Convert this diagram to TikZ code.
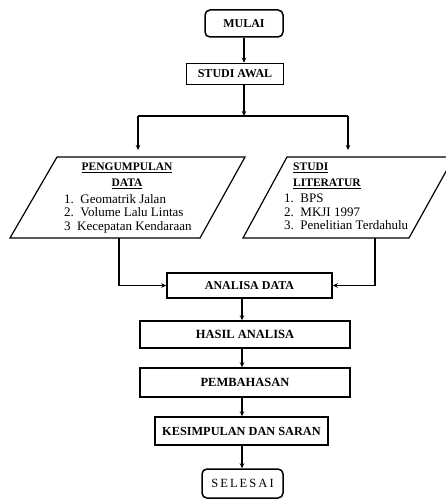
\documentclass[tikz,border=0pt]{standalone}
\usepackage{fontspec}
\setmainfont{Liberation Serif}
\usetikzlibrary{arrows.meta}
\tikzset{
  kotak/.style={draw, line width=1.5pt, inner sep=1pt, font=\bfseries\fontsize{12}{13}\selectfont},
  ujung/.style={kotak, rounded corners=5pt},
  panah/.style={line width=1.4pt, -{Stealth[length=5pt,width=4.5pt]}},
  garis/.style={line width=1.4pt},
  judul/.style={inner sep=0pt, font=\bfseries\fontsize{11.5}{16}\selectfont},
  daftar/.style={align=left, anchor=north west, inner sep=0pt, font=\fontsize{13}{13.5}\selectfont}
}

\begin{document}
\begin{tikzpicture}[x=1pt, y=-1pt]
	%%%%% START %%%%%
	\useasboundingbox (0,0) rectangle (446,500);
	
	\node[ujung, minimum width=78pt, minimum height=27pt] (mulai) at (244,23.5) {MULAI};
	\node[kotak, minimum width=97pt, minimum height=21pt] (awal) at (235,74) {STUDI AWAL};
	
	\coordinate (cabang) at (244,116);
	\coordinate (kiri) at (138,116);
	\coordinate (kanan) at (348,116);
	
	% data input, left
	\coordinate (pk1) at (57,157);
	\coordinate (pk2) at (245,157);
	\coordinate (pk3) at (200,238);
	\coordinate (pk4) at (10,238);
	\draw[line width=1.2pt] (pk1) -- (pk2) -- (pk3) -- (pk4) -- cycle;
	\node[judul, align=center, anchor=north] (pengumpulan) at (127,163) {\underline{PENGUMPULAN}\\\underline{DATA}};
	\node[daftar] (isi-kiri) at (64,194) {1.\enspace Geomatrik Jalan\\2.\enspace Volume Lalu Lintas\\3\enspace Kecepatan Kendaraan};
	
	% data input, right
	\coordinate (sl1) at (287,157);
	\coordinate (sl2) at (454,157);
	\coordinate (sl3) at (409,238);
	\coordinate (sl4) at (243,238);
	\draw[line width=1.2pt] (sl1) -- (sl2) -- (sl3) -- (sl4) -- cycle;
	\node[judul, align=left, anchor=north west] (literatur) at (293,163) {\underline{STUDI}\\\underline{LITERATUR}};
	\node[daftar] (isi-kanan) at (284,194) {1.\enspace BPS\\2.\enspace MKJI 1997\\3.\enspace Penelitian Terdahulu};
	
	\node[kotak, minimum width=165pt, minimum height=25pt] (analisa) at (249.5,285.5) {ANALISA DATA};
	\node[kotak, font=\bfseries\fontsize{12.5}{13}\selectfont, minimum width=210pt, minimum height=27pt] (hasil) at (245,334.5) {HASIL ANALISA};
	\node[kotak, font=\bfseries\fontsize{12.5}{13}\selectfont, minimum width=210pt, minimum height=29pt] (bahas) at (245,382.5) {PEMBAHASAN};
	\node[kotak, font=\bfseries\fontsize{12.3}{13}\selectfont, minimum width=173pt, minimum height=28pt] (simpul) at (241.5,431) {KESIMPULAN DAN SARAN};
	\node[ujung, font=\fontsize{12.5}{13}\selectfont, minimum width=81pt, minimum height=29pt] (selesai) at (242.5,483.5) {S\,E\,L\,E\,S\,A\,I};
	
	\coordinate (poros) at (242,0);
	\coordinate (kiri-bawah) at (119,238);
	\coordinate (kanan-bawah) at (375,238);
	
	% connectors
	\draw[panah] (mulai.south) -- (mulai.south |- awal.north);
	\draw[panah] (cabang |- awal.south) -- (cabang);
	\draw[garis] (kiri) -- (kanan);
	\draw[panah, shorten >=7pt] (kiri) -- (kiri |- pk1);
	\draw[panah, shorten >=7pt] (kanan) -- (kanan |- sl1);
	\draw[panah] (kiri-bawah) |- (analisa.west);
	\draw[panah] (kanan-bawah) |- (analisa.east);
	\draw[panah] (analisa.south -| poros) -- (hasil.north -| poros);
	\draw[panah] (hasil.south -| poros) -- (bahas.north -| poros);
	\draw[panah] (bahas.south -| poros) -- (simpul.north -| poros);
	\draw[panah] (simpul.south -| poros) -- (selesai.north -| poros);
	%%%%% END %%%%%
\end{tikzpicture}
\end{document}
